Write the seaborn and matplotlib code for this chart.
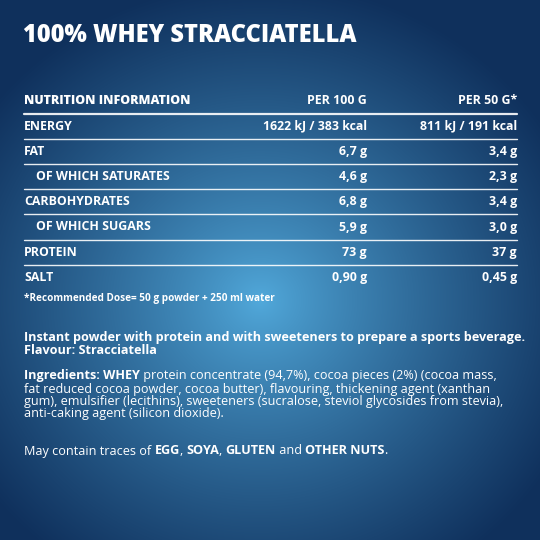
import numpy as np
import matplotlib
matplotlib.use("Agg")
import matplotlib.pyplot as plt
import seaborn as sns

title = "100% WHEY STRACCIATELLA"
header = ["NUTRITION INFORMATION", "PER 100 G", "PER 50 G*"]
nutrients = ["ENERGY", "FAT", "OF WHICH SATURATES", "CARBOHYDRATES",
             "OF WHICH SUGARS", "PROTEIN", "SALT"]
per_100 = ["1622 kJ / 383 kcal", "6,7 g", "4,6 g", "6,8 g", "5,9 g", "73 g", "0,90 g"]
per_50 = ["811 kJ / 191 kcal", "3,4 g", "2,3 g", "3,4 g", "3,0 g", "37 g", "0,45 g"]
footnote = "*Recommended Dose= 50 g powder + 250 ml water"

paragraphs = [
    (337, [("Instant powder with protein and with sweeteners to prepare a sports beverage.", True)]),
    (350, [("Flavour: Stracciatella", True)]),
    (376, [("Ingredients: WHEY", True), (" protein concentrate (94,7%), cocoa pieces (2%) (cocoa mass,", False)]),
    (389, [("fat reduced cocoa powder, cocoa butter), flavouring, thickening agent (xanthan", False)]),
    (401, [("gum), emulsifier (lecithins), sweeteners (sucralose, steviol glycosides from stevia),", False)]),
    (414, [("anti-caking agent (silicon dioxide).", False)]),
    (451, [("May contain traces of ", False), ("EGG", True), (", ", False), ("SOYA", True), (", ", False),
           ("GLUTEN", True), (" and ", False), ("OTHER NUTS", True), (".", False)]),
]

sns.set_style("white")
plt.rcParams['font.family'] = ['Open Sans', 'DejaVu Sans']

fig = plt.figure(figsize=(5.4, 5.4), dpi=100)
ax = fig.add_axes([0, 0, 1, 1])
ax.set_xlim(0, 540)
ax.set_ylim(540, 0)
ax.axis("off")

# radial background gradient
yy, xx = np.mgrid[0:540, 0:540]
r = np.sqrt(((xx - 260) / 340) ** 2 + ((yy - 300) / 320) ** 2)
r = np.clip(r, 0, 1)
c0 = np.array([0x52, 0xaa, 0xdc]) / 255
c1 = np.array([0x0f, 0x30, 0x5c]) / 255
img = c0 + (c1 - c0) * r[..., None] ** 0.85
ax.imshow(img, extent=(0, 540, 540, 0), zorder=0)

W = "white"
ax.text(23, 36, title, color=W, fontsize=17, fontweight="heavy", va="center")

y0, dy = 101, 25.2
xl, xc1, xc2 = 24, 367, 517
fs = 8.9
ax.text(xl, y0, header[0], color=W, fontsize=fs, fontweight="heavy", va="center")
ax.text(xc1, y0, header[1], color=W, fontsize=fs, fontweight="bold", va="center", ha="right")
ax.text(xc2, y0, header[2], color=W, fontsize=fs, fontweight="bold", va="center", ha="right")
for i, name in enumerate(nutrients):
    y = y0 + dy * (i + 1)
    ax.plot([xl, xc2], [y - dy / 2, y - dy / 2], color=W, lw=1.6 if i == 0 else 1.0, alpha=0.9)
    indent = 12 if name.startswith("OF WHICH") else 0
    ax.text(xl + indent, y, name, color=W, fontsize=fs, fontweight="bold", va="center")
    ax.text(xc1, y, per_100[i], color=W, fontsize=fs, fontweight="bold", va="center", ha="right")
    ax.text(xc2, y, per_50[i], color=W, fontsize=fs, fontweight="bold", va="center", ha="right")
ax.text(xl, 299, footnote, color=W, fontsize=7.2, fontweight="bold", va="center")

fig.canvas.draw()
renderer = fig.canvas.get_renderer()
inv = ax.transData.inverted()
for y, runs in paragraphs:
    x = xl
    for txt, bold in runs:
        t = ax.text(x, y, txt, color=W, fontsize=9.1, va="center",
                    fontweight="bold" if bold else "normal")
        bb = t.get_window_extent(renderer)
        x = inv.transform((bb.x1, bb.y0))[0]

fig.savefig("out.png", dpi=100)
